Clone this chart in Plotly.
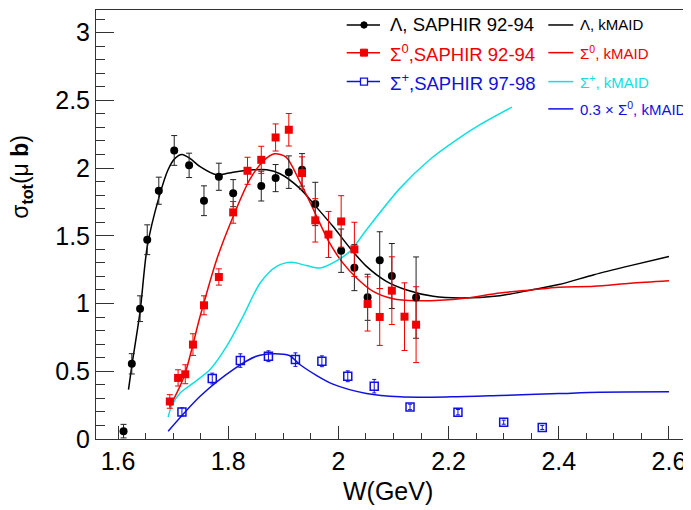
import plotly.graph_objects as go

# ---------------- data ----------------
lam_W = [1.610, 1.625, 1.640, 1.653, 1.674, 1.702, 1.729, 1.756, 1.783, 1.809, 1.860,
         1.886, 1.910, 1.934, 1.958, 2.005, 2.029, 2.053, 2.075, 2.097, 2.141]
lam_sig = [0.058, 0.555, 0.962, 1.471, 1.833, 2.130, 2.020, 1.759, 1.936, 1.815, 1.867,
           1.926, 1.970, 1.987, 1.735, 1.390, 1.265, 1.046, 1.320, 1.203, 1.044]
lam_err = [0.05, 0.075, 0.095, 0.11, 0.10, 0.11, 0.09, 0.11, 0.10, 0.10, 0.11,
           0.10, 0.12, 0.12, 0.16, 0.16, 0.17, 0.17, 0.21, 0.24, 0.30]

sig0_W = [1.694, 1.709, 1.722, 1.736, 1.756, 1.783, 1.809, 1.835, 1.860, 1.886, 1.910,
          1.934, 1.958, 1.982, 2.005, 2.029, 2.053, 2.075, 2.097, 2.120, 2.141]
sig0_sig = [0.277, 0.451, 0.478, 0.697, 0.987, 1.196, 1.673, 1.980, 2.061, 2.226, 2.283,
            1.963, 1.614, 1.510, 1.606, 1.400, 0.997, 0.901, 1.095, 0.903, 0.844]
sig0_err = [0.05, 0.06, 0.07, 0.08, 0.07, 0.06, 0.08, 0.10, 0.10, 0.10, 0.12,
            0.12, 0.16, 0.17, 0.19, 0.20, 0.20, 0.21, 0.25, 0.25, 0.28]

sigp_W = [1.716, 1.771, 1.822, 1.873, 1.922, 1.970, 2.017, 2.065, 2.130, 2.217, 2.300, 2.370]
sigp_sig = [0.200, 0.446, 0.579, 0.611, 0.586, 0.574, 0.463, 0.390, 0.237, 0.198, 0.124, 0.085]
sigp_err = [0.03, 0.04, 0.05, 0.04, 0.05, 0.04, 0.04, 0.05, 0.02, 0.02, 0.015, 0.015]

# kMAID model curves
lamM_W = [1.619, 1.625, 1.640, 1.653, 1.674, 1.691, 1.703, 1.716, 1.731, 1.749, 1.779,
          1.809, 1.846, 1.870, 1.894, 1.930, 1.960, 1.990, 2.021, 2.051, 2.087, 2.124,
          2.172, 2.221, 2.293, 2.350, 2.400, 2.464, 2.530, 2.600]
lamM_sig = [0.365, 0.54, 0.94, 1.42, 1.78, 1.99, 2.07, 2.10, 2.07, 2.01, 1.95,
            1.97, 1.987, 1.987, 1.958, 1.85, 1.712, 1.57, 1.41, 1.274, 1.164, 1.10,
            1.053, 1.041, 1.058, 1.10, 1.14, 1.213, 1.28, 1.348]

sig0M_W = [1.694, 1.720, 1.749, 1.779, 1.809, 1.839, 1.863, 1.884, 1.905, 1.930, 1.954,
           1.984, 2.008, 2.033, 2.063, 2.099, 2.142, 2.184, 2.233, 2.293, 2.350, 2.400,
           2.464, 2.530, 2.600]
sig0M_sig = [0.237, 0.463, 0.906, 1.324, 1.643, 1.914, 2.049, 2.105, 2.081, 1.90, 1.70,
             1.447, 1.30, 1.189, 1.09, 1.036, 1.021, 1.024, 1.041, 1.078, 1.10, 1.12,
             1.127, 1.15, 1.169]

sigpM_W = [1.691, 1.697, 1.713, 1.737, 1.767, 1.797, 1.827, 1.858, 1.888, 1.915, 1.942,
           1.967, 1.990, 2.021, 2.051, 2.112, 2.165, 2.215, 2.257, 2.315]
sigpM_sig = [0.161, 0.242, 0.341, 0.414, 0.513, 0.684, 0.906, 1.152, 1.274, 1.304, 1.28,
             1.262, 1.30, 1.385, 1.545, 1.852, 2.06, 2.21, 2.32, 2.45]

s03M_W = [1.691, 1.749, 1.809, 1.851, 1.881, 1.911, 1.930, 1.960, 1.990, 2.051, 2.112,
          2.203, 2.293, 2.400, 2.475, 2.600]
s03M_sig = [0.058, 0.316, 0.513, 0.611, 0.630, 0.616, 0.55, 0.47, 0.405, 0.336, 0.311,
            0.311, 0.321, 0.335, 0.345, 0.348]

x_ticks = [1.6, 1.8, 2.0, 2.2, 2.4, 2.6]
x_ticklabels = ["1.6", "1.8", "2", "2.2", "2.4", "2.6"]
y_ticks = [0, 0.5, 1, 1.5, 2, 2.5, 3]
y_ticklabels = ["0", "0.5", "1", "1.5", "2", "2.5", "3"]

BLACK = "#000000"
RED = "#f00000"
BLUE = "#1010e0"
CYAN = "#10e0e0"
FONT = "Liberation Sans, Arial, sans-serif"

fig = go.Figure()

# model curves
for W, s, c in [(lamM_W, lamM_sig, BLACK), (sig0M_W, sig0M_sig, RED),
                (sigpM_W, sigpM_sig, CYAN), (s03M_W, s03M_sig, BLUE)]:
    fig.add_trace(go.Scatter(x=W, y=s, mode="lines",
                             line=dict(color=c, width=1.5, shape="spline", smoothing=0.8),
                             showlegend=False, hoverinfo="skip"))

# data
fig.add_trace(go.Scatter(x=lam_W, y=lam_sig, mode="markers",
                         marker=dict(symbol="circle", size=8, color=BLACK),
                         error_y=dict(type="data", array=lam_err, width=3, thickness=1, color="#222"),
                         showlegend=False))
fig.add_trace(go.Scatter(x=sig0_W, y=sig0_sig, mode="markers",
                         marker=dict(symbol="square", size=8, color=RED),
                         error_y=dict(type="data", array=sig0_err, width=3, thickness=1, color=RED),
                         showlegend=False))
fig.add_trace(go.Scatter(x=sigp_W, y=sigp_sig, mode="markers",
                         marker=dict(symbol="square-open", size=8, color=BLUE, line=dict(width=1.5)),
                         error_y=dict(type="data", array=sigp_err, width=2, thickness=1, color=BLUE),
                         showlegend=False))

# ---------------- layout ----------------
# page coordinates (the page body has an 8 px margin)
OFF = 8
L, T, B_AX, W_PAGE, H_PAGE = 96, 10, 439.5, 691, 510
W_FIG, H_FIG = W_PAGE - OFF, H_PAGE - OFF


def px(x):
    return (x - L) / (W_PAGE - L)


def py(y):
    return (B_AX - y) / (B_AX - T)


annotations = []
shapes = []

# legend, left column (data)
rows_left = [("Λ, SAPHIR 92-94", BLACK, 25, "circle"),
             ("Σ<sup>0</sup>,SAPHIR 92-94", RED, 52.7, "fsquare"),
             ("Σ<sup>+</sup>,SAPHIR 97-98", BLUE, 81.7, "osquare")]
for txt, col, yy, mk in rows_left:
    shapes.append(dict(type="line", xref="paper", yref="paper", x0=px(346.7), x1=px(380),
                       y0=py(yy), y1=py(yy), line=dict(color=col, width=1.5)))
    cx = 364
    if mk == "circle":
        shapes.append(dict(type="circle", xref="paper", yref="paper", x0=px(cx - 3.2), x1=px(cx + 3.2),
                           y0=py(yy + 3.2), y1=py(yy - 3.2), fillcolor=col, line=dict(color=col, width=1)))
    elif mk == "fsquare":
        shapes.append(dict(type="rect", xref="paper", yref="paper", x0=px(cx - 3.5), x1=px(cx + 3.5),
                           y0=py(yy + 3.5), y1=py(yy - 3.5), fillcolor=col, line=dict(color=col, width=1)))
    else:
        shapes.append(dict(type="rect", xref="paper", yref="paper", x0=px(cx - 3.5), x1=px(cx + 3.5),
                           y0=py(yy + 3.5), y1=py(yy - 3.5), fillcolor="white", line=dict(color=col, width=1.3)))
    annotations.append(dict(text=txt, xref="paper", yref="paper", x=px(388), y=py(yy),
                            xanchor="left", yanchor="middle", showarrow=False,
                            font=dict(family=FONT, size=18.5, color=col)))

# legend, right column (models)
rows_right = [("Λ, kMAID", BLACK, 25), ("Σ<sup>0</sup>, kMAID", RED, 52.7),
              ("Σ<sup>+</sup>, kMAID", CYAN, 81.7), ("0.3 × Σ<sup>0</sup>, kMAID", BLUE, 109)]
for txt, col, yy in rows_right:
    shapes.append(dict(type="line", xref="paper", yref="paper", x0=px(548.3), x1=px(573.3),
                       y0=py(yy), y1=py(yy), line=dict(color=col, width=1.5)))
    annotations.append(dict(text=txt, xref="paper", yref="paper", x=px(578), y=py(yy),
                            xanchor="left", yanchor="middle", showarrow=False,
                            font=dict(family=FONT, size=15, color=col)))

# axis titles
annotations.append(dict(text="W(GeV)", xref="paper", yref="paper", x=px(388), y=py(492),
                        xanchor="center", yanchor="middle", showarrow=False,
                        font=dict(family=FONT, size=25, color=BLACK)))
annotations.append(dict(text="σ<sub><b>tot</b></sub>(μ <b>b</b>)", xref="paper", yref="paper",
                        x=px(22), y=py(177), xanchor="center", yanchor="middle", textangle=-90,
                        showarrow=False, font=dict(family=FONT, size=23, color=BLACK)))

fig.update_layout(
    width=W_FIG, height=H_FIG,
    margin=dict(l=L - OFF, r=0, t=T - OFF, b=H_PAGE - B_AX),
    paper_bgcolor="white", plot_bgcolor="white",
    annotations=annotations, shapes=shapes,
    showlegend=False,
    font=dict(family=FONT, color=BLACK),
)
fig.update_xaxes(range=[1.56, 2.64], showgrid=False, zeroline=False,
                 showline=True, linecolor="#333", linewidth=1, mirror=True,
                 ticks="inside", ticklen=13, tickwidth=1, tickcolor="#333",
                 tickvals=x_ticks, ticktext=x_ticklabels,
                 tickfont=dict(family=FONT, size=25, color=BLACK),
                 minor=dict(ticks="inside", ticklen=6, dtick=0.05, tick0=1.6, tickcolor="#333", showgrid=False))
fig.update_yaxes(range=[0, 3.167], showgrid=False, zeroline=False,
                 showline=True, linecolor="#333", linewidth=1, mirror=False,
                 ticks="inside", ticklen=18, tickwidth=1, tickcolor="#333",
                 tickvals=y_ticks, ticktext=y_ticklabels,
                 tickfont=dict(family=FONT, size=25, color=BLACK),
                 minor=dict(ticks="inside", ticklen=9, dtick=0.1, tick0=0, tickcolor="#333", showgrid=False))

fig.write_html("out.html")
